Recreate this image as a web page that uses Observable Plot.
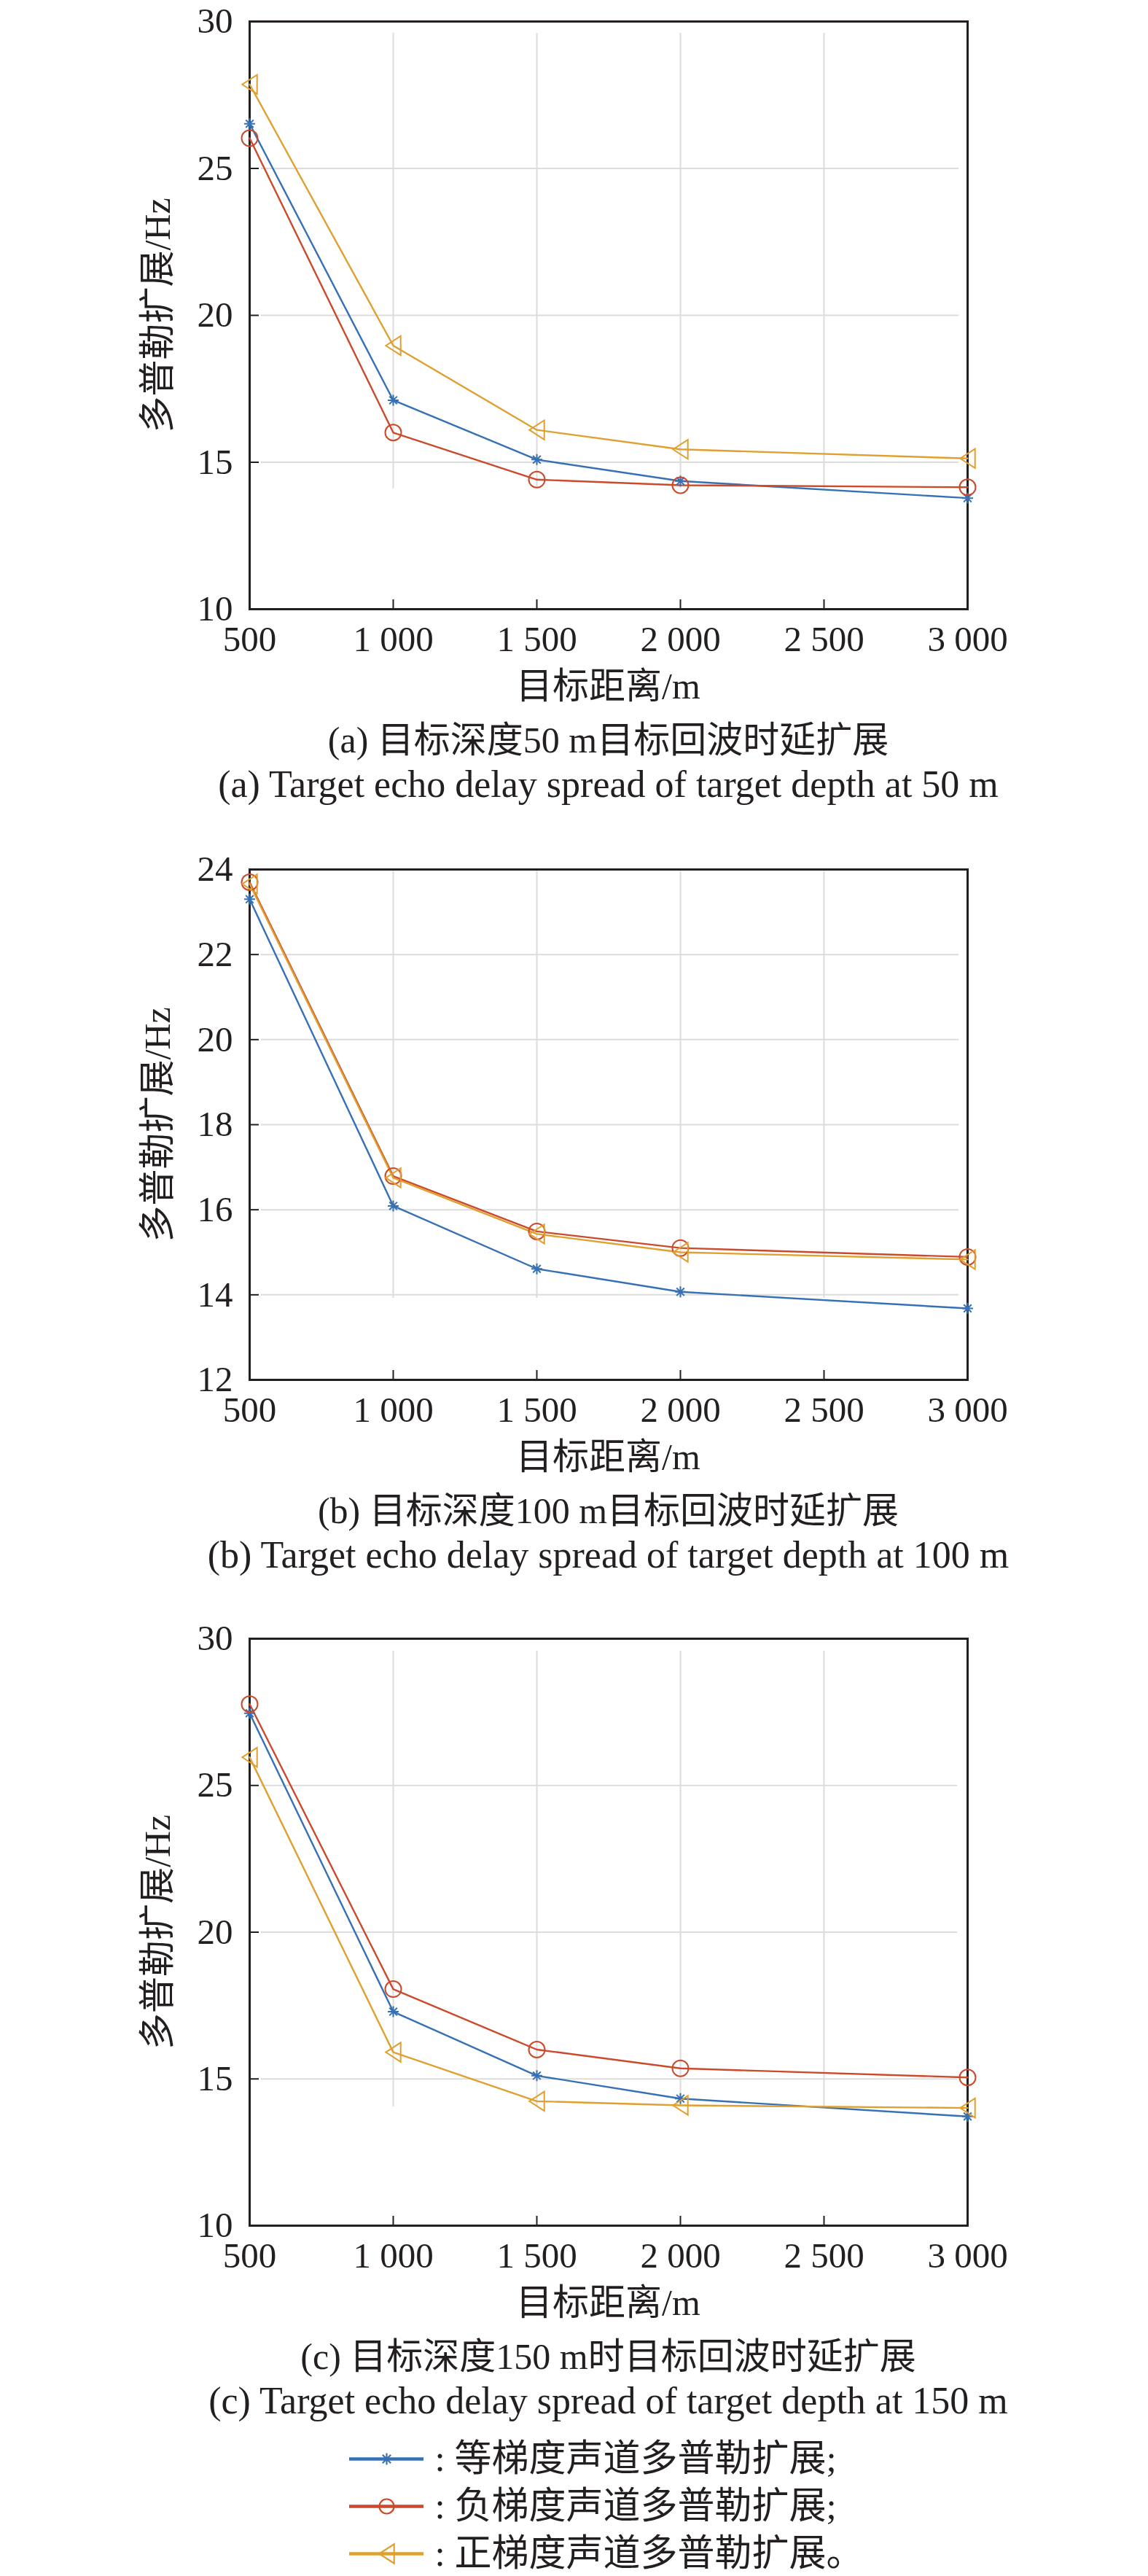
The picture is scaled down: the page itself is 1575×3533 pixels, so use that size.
<!DOCTYPE html>
<html>
<head>
<meta charset="utf-8">
<script src="https://cdn.jsdelivr.net/npm/d3@7"></script>
<script src="https://cdn.jsdelivr.net/npm/@observablehq/plot@0.6"></script>
<style>
  html, body { margin: 0; padding: 0; background: #ffffff; }
  #root { position: relative; width: 1575px; height: 3533px; overflow: hidden; background: #ffffff;
          font-family: "Liberation Serif", "Times New Roman", "Noto Sans CJK SC", serif; color: #231f20; }
  .lbl { position: absolute; left: 134.5px; width: 1400px; text-align: center; white-space: nowrap;
         height: 64px; line-height: 64px; }
</style>
</head>
<body>
<div id="root"></div>
<script>
// ---------- data ----------
const distances = [500, 1000, 1500, 2000, 3000];
const xTicks = [500, 1000, 1500, 2000, 2500, 3000];
const xTickLabels = ["500", "1 000", "1 500", "2 000", "2 500", "3 000"];
const xTitle = "目标距离/m";
const yTitle = "多普勒扩展/Hz";

const seriesNames = ["等梯度声道多普勒扩展", "负梯度声道多普勒扩展", "正梯度声道多普勒扩展"];
const legendLabels = [": 等梯度声道多普勒扩展;", ": 负梯度声道多普勒扩展;", ": 正梯度声道多普勒扩展。"];
const seriesColors = ["#3670b5", "#cc4a2c", "#e0a030"];

// (a) target depth 50 m
const aEqual    = [26.52, 17.11, 15.09, 14.36, 13.78];
const aNegative = [26.03, 16.01, 14.41, 14.22, 14.15];
const aPositive = [27.86, 18.97, 16.10, 15.44, 15.13];
const aYTicks = [10, 15, 20, 25, 30];

// (b) target depth 100 m
const bEqual    = [23.30, 16.09, 14.61, 14.07, 13.68];
const bNegative = [23.70, 16.79, 15.49, 15.10, 14.89];
const bPositive = [23.66, 16.75, 15.43, 15.00, 14.83];
const bYTicks = [12, 14, 16, 18, 20, 22, 24];

// (c) target depth 150 m
const cEqual    = [27.46, 17.29, 15.11, 14.33, 13.72];
const cNegative = [27.77, 18.06, 16.00, 15.36, 15.05];
const cPositive = [25.96, 15.91, 14.24, 14.10, 14.01];
const cYTicks = [10, 15, 20, 25, 30];

const captionsCN = ["(a) 目标深度50 m目标回波时延扩展", "(b) 目标深度100 m目标回波时延扩展", "(c) 目标深度150 m时目标回波时延扩展"];
const captionsEN = ["(a) Target echo delay spread of target depth at 50 m",
                    "(b) Target echo delay spread of target depth at 100 m",
                    "(c) Target echo delay spread of target depth at 150 m"];

// ---------- symbols ----------
const asterisk8 = {
  draw(ctx, size) {
    const r = Math.sqrt(size / Math.PI), d = r * Math.SQRT1_2;
    ctx.moveTo(-r, 0); ctx.lineTo(r, 0);
    ctx.moveTo(0, -r); ctx.lineTo(0, r);
    ctx.moveTo(-d, -d); ctx.lineTo(d, d);
    ctx.moveTo(-d, d); ctx.lineTo(d, -d);
  }
};
const triangleLeft = {
  draw(ctx, size) {
    const r = Math.sqrt(size / Math.PI);
    ctx.moveTo(-0.85 * r, 0);
    ctx.lineTo(0.85 * r, -1.1 * r);
    ctx.lineTo(0.85 * r, 1.1 * r);
    ctx.closePath();
  }
};
const seriesSymbols = [asterisk8, "circle", triangleLeft];
const seriesR = [7.5, 11, 12];

const FONT = '"Liberation Serif", "Times New Roman", "Noto Sans CJK SC", serif';
const INK = "#231f20";
const GRID = "#dcdcdc";
const root = document.getElementById("root");

function addLabel(text, centerY, size) {
  const d = document.createElement("div");
  d.className = "lbl";
  d.style.top = (centerY - 32) + "px";
  d.style.fontSize = size + "px";
  d.textContent = text;
  root.appendChild(d);
}

function panel({top, bottom, yDomain, yTicks, vGrid, hGridX, series, cn, en}) {
  const mt = 30, mb = 80;
  const h = bottom - top + mt + mb;
  const marks = [
    Plot.ruleY(yTicks.slice(1, -1), {y: d => d, x1: hGridX[0], x2: hGridX[1], stroke: GRID, strokeWidth: 2}),
    Plot.ruleX(xTicks.slice(1, -1), {x: d => d, y1: vGrid[0], y2: vGrid[1], stroke: GRID, strokeWidth: 2}),
    Plot.axisX(xTicks, {tickSize: 13, dy: -13, fill: "none", stroke: INK, strokeWidth: 2, label: null}),
    Plot.axisX(xTicks, {tickSize: 0, tickPadding: 23, stroke: "none", fill: INK, label: null,
                        tickFormat: d => xTickLabels[xTicks.indexOf(d)]}),
    Plot.axisY(yTicks, {tickSize: 13, dx: 13, fill: "none", stroke: INK, strokeWidth: 2, label: null}),
    Plot.axisY(yTicks, {tickSize: 0, tickPadding: 23, stroke: "none", fill: INK, label: null,
                        tickFormat: d => String(d)}),
    Plot.frame({stroke: INK, strokeWidth: 3})
  ];
  series.forEach((vals, s) => {
    marks.push(Plot.line(distances, {x: d => d, y: (d, i) => vals[i], stroke: seriesColors[s], strokeWidth: 2.4}));
  });
  series.forEach((vals, s) => {
    marks.push(Plot.dot(distances, {x: d => d, y: (d, i) => vals[i], symbol: seriesSymbols[s], r: seriesR[s],
                                    stroke: seriesColors[s], strokeWidth: 2, fill: "none"}));
  });
  marks.push(Plot.text([yTitle], {text: d => d, frameAnchor: "left", textAnchor: "middle", lineAnchor: "middle",
                                  rotate: -90, dx: -126, fontSize: 50, fill: INK}));

  const svg = Plot.plot({
    width: 1575, height: h,
    marginLeft: 342, marginRight: 248, marginTop: mt, marginBottom: mb,
    style: {fontFamily: FONT, fontSize: "49px", color: INK, background: "transparent", overflow: "visible"},
    x: {domain: [500, 3000]},
    y: {domain: yDomain},
    marks
  });
  svg.style.position = "absolute";
  svg.style.left = "0px";
  svg.style.top = (top - mt) + "px";
  root.appendChild(svg);

  addLabel(xTitle, bottom + 106, 50);
  addLabel(cn, bottom + 180, 50);
  addLabel(en, bottom + 241, 52);
}

panel({top: 29, bottom: 835, yDomain: [10, 30], yTicks: aYTicks, vGrid: [29.6, 14.1], hGridX: [540, 2970],
       series: [aEqual, aNegative, aPositive], cn: captionsCN[0], en: captionsEN[0]});
panel({top: 1192, bottom: 1892, yDomain: [12, 24], yTicks: bYTicks, vGrid: [23.96, 13.92], hGridX: [540, 2970],
       series: [bEqual, bNegative, bPositive], cn: captionsCN[1], en: captionsEN[1]});
panel({top: 2247, bottom: 3052, yDomain: [10, 30], yTicks: cYTicks, vGrid: [29.58, 14.05], hGridX: [540, 2965],
       series: [cEqual, cNegative, cPositive], cn: captionsCN[2], en: captionsEN[2]});

// ---------- legend ----------
const legendIdx = [0, 1, 2];
const legend = Plot.plot({
  width: 1575, height: 203,
  marginLeft: 0, marginRight: 0, marginTop: 0, marginBottom: 0,
  style: {fontFamily: FONT, fontSize: "52px", color: INK, background: "transparent", overflow: "visible"},
  x: {domain: [0, 1], range: [479, 581], axis: null},
  y: {type: "point", domain: legendIdx, range: [41, 172], padding: 0, axis: null},
  marks: [
    ...legendIdx.map(s => Plot.ruleY([s], {y: d => d, x1: 0, x2: 1, stroke: seriesColors[s], strokeWidth: 4.5})),
    ...legendIdx.map(s => Plot.dot([s], {x: 0.5, y: d => d, symbol: seriesSymbols[s], r: [8, 10, 12][s],
                                         stroke: seriesColors[s], strokeWidth: 2.2, fill: "none"})),
    Plot.text(legendIdx, {x: 1, y: d => d, text: d => legendLabels[d], dx: 15, textAnchor: "start",
                          lineAnchor: "middle", fill: INK, fontSize: 51})
  ]
});
legend.style.position = "absolute";
legend.style.left = "0px";
legend.style.top = "3330px";
root.appendChild(legend);
</script>
</body>
</html>
